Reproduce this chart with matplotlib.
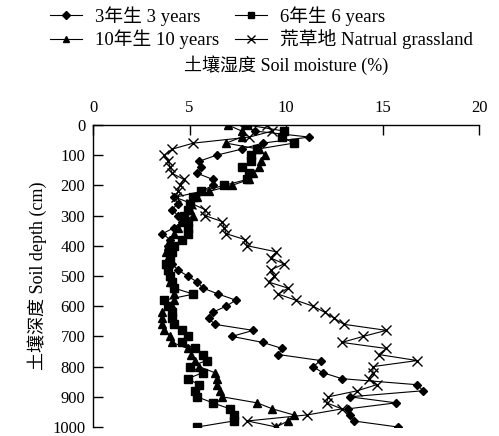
import matplotlib
matplotlib.use("Agg")
import matplotlib.pyplot as plt
import numpy as np

plt.rcParams['font.family'] = ['Liberation Serif', 'Noto Sans CJK SC']
plt.rcParams['font.size'] = 12

depth = list(range(0, 1001, 20))

y3 = [7.8, 8.4, 11.2, 8.8, 7.7, 6.4, 5.5, 5.6, 5.4, 6.2,
      6.2, 5.6, 4.2, 4.4, 4.1, 4.4, 4.6, 4.2, 3.6, 4.0,
      3.9, 4.0, 4.0, 4.1, 4.4, 4.9, 5.4, 5.7, 6.5, 7.4,
      6.9, 6.2, 6.0, 6.3, 8.3, 7.2, 8.8, 9.8, 9.6, 11.8,
      11.4, 11.9, 12.9, 16.8, 17.1, 13.3, 15.7, 13.2, 13.3, 13.5,
      15.8]

y6 = [8.0, 9.9, 9.8, 10.4, 8.5, 8.2, 8.2, 7.7, 8.1, 8.0,
      6.8, 5.6, 5.2, 5.0, 4.9, 4.7, 4.9, 4.9, 4.9, 4.6,
      4.2, 4.1, 4.0, 3.8, 3.9, 4.0, 4.1, 4.2, 5.2, 3.7,
      3.9, 4.1, 4.1, 4.2, 4.6, 4.9, 4.6, 5.3, 5.7, 5.9,
      5.0, 5.7, 4.9, 5.5, 5.3, 5.4, 6.2, 7.1, 7.3, 7.3,
      5.4]

y10 = [7.0, 7.7, 7.7, 6.9, 8.6, 8.9, 8.7, 8.6, 8.3, 8.1,
       7.2, 6.0, 5.4, 5.1, 5.0, 5.2, 4.6, 4.4, 4.2, 4.0,
       3.9, 3.8, 3.9, 3.8, 3.9, 4.0, 4.0, 4.2, 4.2, 4.2,
       4.1, 3.6, 3.6, 3.6, 3.7, 4.0, 4.1, 4.9, 5.1, 5.3,
       5.5, 6.3, 6.4, 6.4, 6.6, 6.7, 8.5, 9.3, 10.4, 10.1,
       9.5]

yg = [9.0, 9.3, 8.1, 5.2, 4.1, 3.7, 3.9, 4.0, 4.1, 4.7,
      4.5, 4.4, 4.3, 5.1, 5.8, 5.8, 6.7, 6.8, 6.9, 7.9,
      8.0, 9.5, 9.2, 9.9, 9.2, 9.4, 9.1, 10.1, 9.6, 10.5,
      11.4, 12.0, 12.5, 13.0, 15.2, 14.0, 12.9, 15.2, 14.8, 16.8,
      14.5, 14.5, 14.3, 14.7, 13.7, 12.2, 12.1, 12.9, 11.1, 8.0,
      9.5]

labels = ['3年生 3 years', '6年生 6 years', '10年生 10 years', '荒草地 Natrual grassland']
xticks = [0, 5, 10, 15, 20]
yticks = list(range(0, 1001, 100))

fig = plt.figure(figsize=(4.99, 4.36), dpi=100)
ax = fig.add_axes([93/499, 1 - 427/436, 386/499, 302/436])

lw = 0.8
h3, = ax.plot(y3, depth, color='black', lw=lw, marker='D', ms=4.5, label=labels[0])
h6, = ax.plot(y6, depth, color='black', lw=lw, marker='s', ms=5.2, label=labels[1])
h10, = ax.plot(y10, depth, color='black', lw=lw, marker='^', ms=6.0, label=labels[2])
hg, = ax.plot(yg, depth, color='black', lw=lw, marker='x', ms=6.8, mew=1.0, label=labels[3])

ax.set_xlim(0, 20)
ax.set_ylim(1000, 0)
ax.set_xticks(xticks)
ax.set_yticks(yticks)
ax.xaxis.tick_top()
ax.xaxis.set_label_position('top')
ax.spines['right'].set_visible(False)
ax.spines['bottom'].set_visible(False)
for s in ['left', 'top']:
    ax.spines[s].set_linewidth(1.0)
ax.tick_params(axis='both', direction='in', length=7, width=1.0, labelsize=12)
ax.tick_params(axis='x', pad=6.5)
ax.tick_params(axis='y', pad=5.5)
ax.set_xlabel('土壤湿度 Soil moisture (%)', fontsize=13, va='center')
ax.xaxis.set_label_coords(0.5, 1 + 60/302)
ax.set_ylabel('土壤深度 Soil depth (cm)', fontsize=13, labelpad=4)

fig.legend([h3, h10, h6, hg], [labels[0], labels[2], labels[1], labels[3]],
           ncol=2, loc='upper left', bbox_to_anchor=(50/499, 1 - 6/436),
           frameon=False, borderpad=0, borderaxespad=0, handlelength=1.7,
           handletextpad=0.7, columnspacing=0.85, labelspacing=0.2,
           fontsize=13.5, markerscale=0.8)

fig.savefig('out.png', dpi=100)
